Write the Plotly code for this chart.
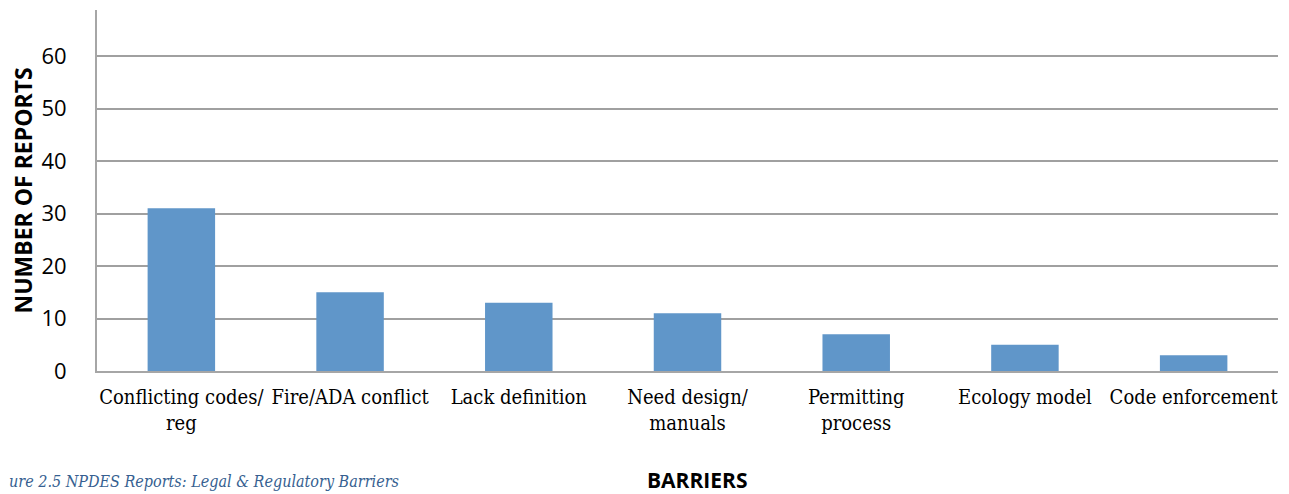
import plotly.graph_objects as go

categories = ["Conflicting codes/<br>reg", "Fire/ADA conflict", "Lack definition",
              "Need design/<br>manuals", "Permitting<br>process", "Ecology model",
              "Code enforcement"]
values = [31, 15, 13, 11, 7, 5, 3]
y_ticks = [0, 10, 20, 30, 40, 50, 60]

# page has 8px body margin; figure sized so plot area lands where the reference has it
W, H = 1281, 486
L, R, T, B = 89, 11, 2, 123
PW = W - L - R
PH = H - T - B

fig = go.Figure(go.Bar(x=categories, y=values, marker=dict(color="#6096c9", line=dict(width=0)),
                       width=0.4))

fig.update_layout(
    width=W, height=H,
    margin=dict(l=L, r=R, t=T, b=B, autoexpand=False),
    paper_bgcolor="white", plot_bgcolor="white",
    showlegend=False,
    bargap=0.6,
)
fig.update_xaxes(
    showgrid=False, showline=True, linecolor="#a6a6a6", linewidth=2,
    tickfont=dict(family="DejaVu Serif Condensed, Liberation Serif", size=20, color="black"),
    ticks="", tickangle=0, ticklabelstandoff=7, automargin=False,
)
fig.update_yaxes(
    range=[0, 68.8], tickvals=y_ticks,
    showgrid=True, gridcolor="#a0a0a0", gridwidth=1.5,
    showline=True, linecolor="#a6a6a6", linewidth=2,
    zeroline=False,
    tickfont=dict(family="Open Sans", size=22, color="black"),
    ticks="", ticklabelstandoff=24, automargin=False,
)
fig.add_annotation(text="<b>NUMBER OF REPORTS</b>", xref="paper", yref="paper",
                   x=(14 - L) / PW, y=0.5, xanchor="center", yanchor="middle",
                   textangle=-90, showarrow=False,
                   font=dict(family="Open Sans", size=23, color="black"))
fig.add_annotation(text="<b>BARRIERS</b>", xref="paper", yref="paper",
                   x=(689 - L) / PW, y=-(472 - (H - B)) / PH,
                   xanchor="center", yanchor="middle", showarrow=False, borderpad=0,
                   font=dict(family="Open Sans", size=21, color="black"))
fig.add_annotation(text="<i>ure 2.5 NPDES Reports: Legal &amp; Regulatory Barriers</i>",
                   xref="paper", yref="paper", x=(0 - L) / PW, y=-(473 - (H - B)) / PH,
                   xanchor="left", yanchor="middle", showarrow=False, borderpad=0,
                   font=dict(family="DejaVu Serif Condensed, Liberation Serif", size=16, color="#365f91"))

fig.write_html("out.html")
